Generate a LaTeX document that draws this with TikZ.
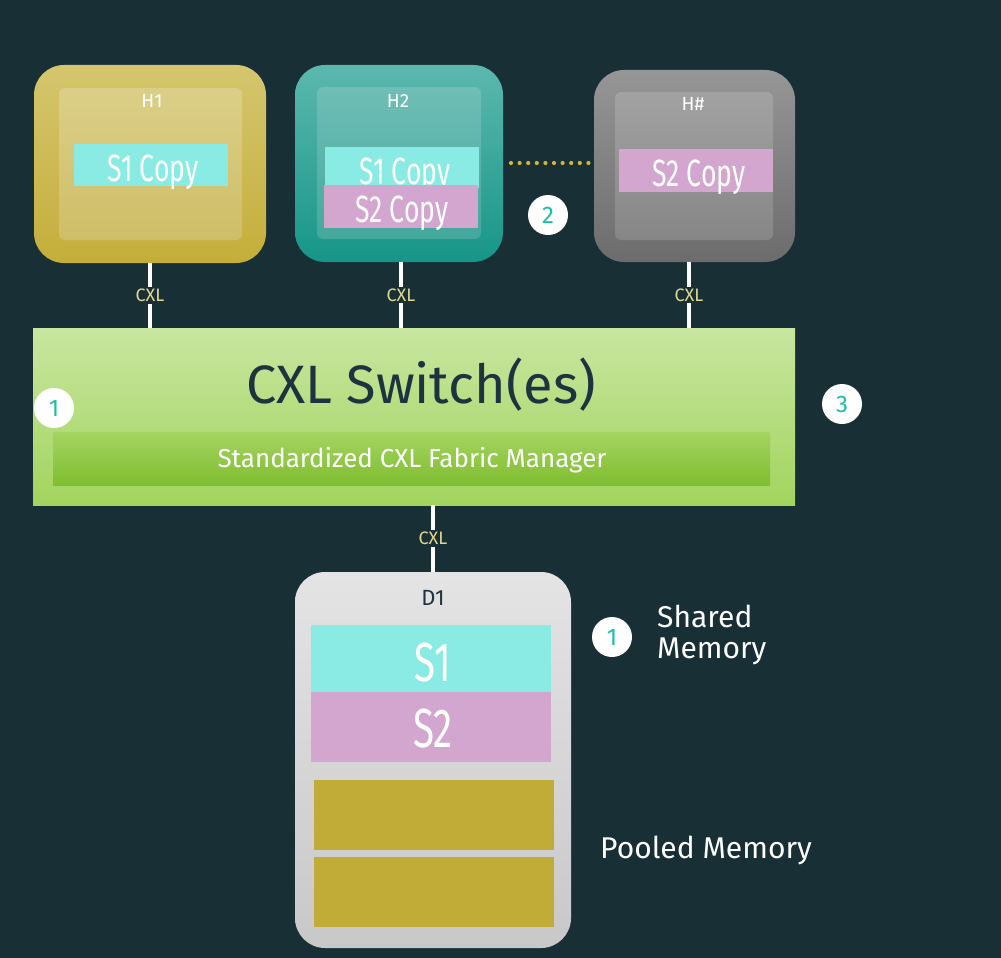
\documentclass[tikz,border=0pt]{standalone}
\usepackage{fontspec}
\setmainfont{Fira Sans}
\usepackage{graphicx}
\definecolor{bg}{HTML}{182F35}
\definecolor{cyanm}{HTML}{8AEBE4}
\definecolor{pinkm}{HTML}{D2A6CE}
\definecolor{goldm}{HTML}{C2AC38}
\definecolor{dotc}{HTML}{CDB63A}
\definecolor{tealnum}{HTML}{1ABFA8}
\definecolor{cxllbl}{HTML}{E0D890}
\definecolor{darktxt}{HTML}{1E3340}
\tikzset{
  outerbox/.style={rectangle, rounded corners=30pt, inner sep=0pt, outer sep=0pt},
  innerbox/.style={rectangle, rounded corners=6pt, inner sep=0pt, outer sep=0pt},
  membox/.style={rectangle, inner sep=0pt, outer sep=0pt, text=white},
  hlabel/.style={text=white, font=\fontsize{19}{21}\selectfont, inner sep=0pt},
  copytxt/.style={text=white, inner sep=0pt, font=\fontsize{38}{40}\selectfont},
  numcirc/.style={circle, fill=white, minimum size=40pt, inner sep=0pt, text=tealnum, font=\fontsize{24}{26}\selectfont},
  cxlline/.style={draw=white, line width=3.5pt},
  cxllabel/.style={fill=bg, text=cxllbl, inner sep=2pt, font=\fontsize{18}{20}\selectfont},
  sidetxt/.style={text=white, font=\fontsize{30}{33}\selectfont, inner sep=0pt, align=left},
}
\newcommand{\cond}[1]{\scalebox{0.7}[1]{#1}}
\begin{document}
\begin{tikzpicture}[x=1pt,y=-1pt]
\fill[bg] (0,0) rectangle (1001,958);
\useasboundingbox (0,0) rectangle (1001,958);

% Host H1
\node[outerbox, minimum width=232pt, minimum height=198pt, top color={rgb,255:red,213;green,198;blue,110}, bottom color={rgb,255:red,196;green,174;blue,58}] (h1) at (150,164) {};
\node[innerbox, minimum width=183pt, minimum height=152pt, top color={rgb,255:red,219;green,207;blue,136}, bottom color={rgb,255:red,207;green,190;blue,104}] (h1i) at (150.5,164) {};
\node[hlabel] (h1l) at (152,101) {H1};
\node[membox, fill=cyanm, minimum width=154pt, minimum height=42pt] (h1s1) at (151,165) {};
\node[copytxt, anchor=base] (h1s1t) at (153,181) {\cond{S1 Copy}};

% Host H2
\node[outerbox, minimum width=208pt, minimum height=197pt, top color={rgb,255:red,92;green,184;blue,174}, bottom color={rgb,255:red,22;green,150;blue,136}] (h2) at (399,163.5) {};
\node[innerbox, minimum width=164pt, minimum height=152pt, top color={rgb,255:red,112;green,190;blue,182}, bottom color={rgb,255:red,68;green,168;blue,156}] (h2i) at (399,163) {};
\node[hlabel] (h2l) at (398,101) {H2};
\node[membox, fill=cyanm, minimum width=154pt, minimum height=41pt] (h2s1) at (402,167.5) {};
\node[copytxt, anchor=base] (h2s1t) at (405,184) {\cond{S1 Copy}};
\node[membox, fill=pinkm, minimum width=154pt, minimum height=43pt] (h2s2) at (401,206.5) {};
\node[copytxt, anchor=base] (h2s2t) at (402,222) {\cond{S2 Copy}};

% Host H#
\node[outerbox, minimum width=201pt, minimum height=192pt, top color={rgb,255:red,150;green,150;blue,150}, bottom color={rgb,255:red,108;green,108;blue,108}] (hn) at (694.5,166) {};
\node[innerbox, minimum width=158pt, minimum height=148pt, top color={rgb,255:red,162;green,162;blue,162}, bottom color={rgb,255:red,134;green,134;blue,134}] (hni) at (694,166) {};
\node[hlabel] (hnl) at (693,104) {H\#};
\node[membox, fill=pinkm, minimum width=154pt, minimum height=43pt] (hns2) at (696,170.5) {};
\node[copytxt, anchor=base] (hns2t) at (699,186) {\cond{S2 Copy}};

% dotted link
\draw[dotc, line width=4.2pt, line cap=round, dash pattern=on 0pt off 8.6pt] (h2.east |- 0,163) ++(8,0) coordinate (dl) -- (hn.west |- 0,163) coordinate (dr);

% Switch
\node[rectangle, inner sep=0pt, outer sep=0pt, minimum width=762pt, minimum height=177pt, top color={rgb,255:red,200;green,230;blue,160}, bottom color={rgb,255:red,162;green,212;blue,94}] (sw) at (414,416.5) {};
\node[text=darktxt, font=\fontsize{54}{58}\selectfont, inner sep=0pt] (swl) at (421,385) {CXL Switch(es)};
\node[rectangle, inner sep=0pt, outer sep=0pt, minimum width=717pt, minimum height=53pt, top color={rgb,255:red,164;green,212;blue,98}, bottom color={rgb,255:red,128;green,190;blue,48}] (fm) at (411.5,458.5) {};
\node[text=white, inner sep=0pt, font=\fontsize{26}{28}\selectfont] (fmt) at (412,460) {Standardized CXL Fabric Manager};

% CXL links
\draw[cxlline] (h1.south) -- (h1.south |- sw.north) node[midway, cxllabel] (c1) {CXL};
\draw[cxlline] ([xshift=2pt]h2.south) -- ([xshift=2pt]h2.south |- sw.north) node[midway, cxllabel] (c2) {CXL};
\draw[cxlline] ([xshift=-5.5pt]hn.south) -- ([xshift=-5.5pt]hn.south |- sw.north) node[midway, cxllabel] (c3) {CXL};

% Device D1
\node[outerbox, minimum width=276pt, minimum height=376pt, top color={rgb,255:red,228;green,228;blue,228}, bottom color={rgb,255:red,200;green,200;blue,200}] (d1) at (433,760) {};
\node[text=darktxt, font=\fontsize{22}{24}\selectfont, inner sep=0pt] (d1l) at (433,598) {D1};
\node[membox, fill=cyanm, minimum width=240pt, minimum height=67pt] (s1) at (431,658.5) {};
\node[copytxt, anchor=base, font=\fontsize{55}{58}\selectfont] (s1t) at (433,681) {\cond{S1}};
\node[membox, fill=pinkm, minimum width=240pt, minimum height=70pt] (s2) at (431,727) {};
\node[copytxt, anchor=base, font=\fontsize{55}{58}\selectfont] (s2t) at (433,747) {\cond{S2}};
\node[membox, fill=goldm, minimum width=240pt, minimum height=70pt] (p1) at (434,815) {};
\node[membox, fill=goldm, minimum width=240pt, minimum height=70pt] (p2) at (434,892) {};

\draw[cxlline] (d1.north |- sw.south) -- (d1.north) node[midway, cxllabel] (c4) {CXL};

% numbered circles
\node[numcirc] (n1a) at (54,408) {1};
\node[numcirc] (n3) at (842,404) {3};
\node[numcirc] (n2) at (548,215) {2};
\node[numcirc] (n1b) at (612,637) {1};

% side labels
\node[sidetxt, anchor=west] (shared) at (657,635) {Shared\\[-2pt]Memory};
\node[sidetxt, anchor=west] (pooled) at (600,850) {Pooled Memory};
\end{tikzpicture}
\end{document}
